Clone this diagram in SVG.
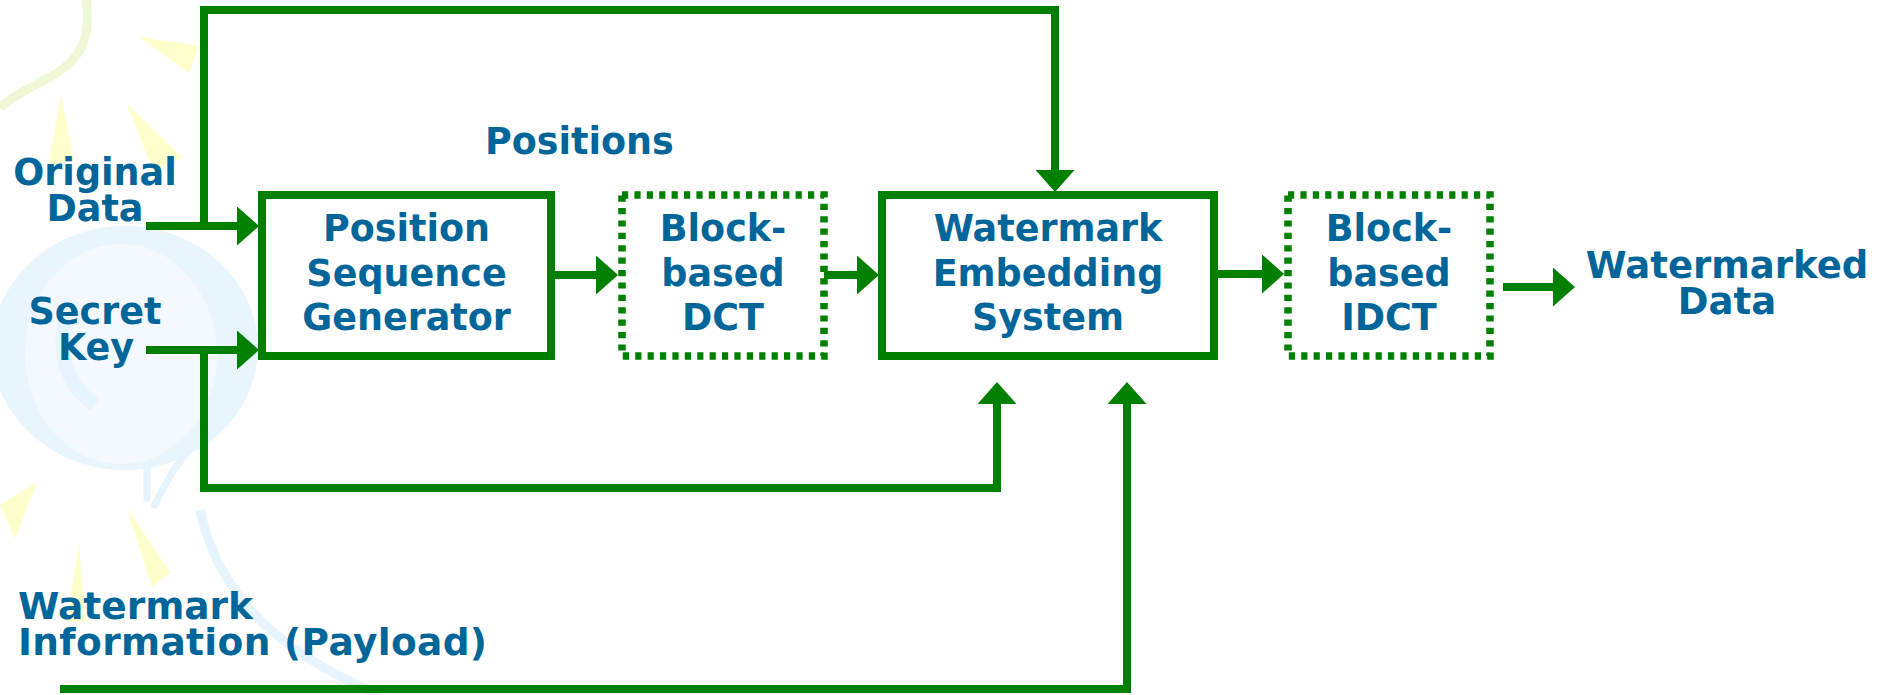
<svg xmlns="http://www.w3.org/2000/svg" width="1892" height="695" viewBox="0 0 1892 695">
<style>
.t{font-family:"DejaVu Sans",Verdana,sans-serif;font-weight:bold;font-size:36.5px;fill:#006699}
.m{text-anchor:middle}
.box{fill:#ffffff;stroke:#008000;stroke-width:8}
.dash{fill:#ffffff;stroke:#008000;stroke-width:7.5;stroke-dasharray:6.2 6.2}
.c{fill:none;stroke:#008000;stroke-width:8;stroke-linejoin:miter}
.ray{fill:#ffffcc}
.sw{fill:none;stroke:#e6f4fd}
</style>
<defs>
<marker id="ah" viewBox="0 0 22 39" refX="7" refY="19.5" markerWidth="22" markerHeight="39" markerUnits="userSpaceOnUse" orient="auto">
<path d="M0,0 L22,19.5 L0,39 z" fill="#008000"/>
</marker>
</defs>
<rect width="1892" height="695" fill="#ffffff"/>
<g id="background">
<path d="M86,0 C92,40 80,62 45,80 C25,90 10,98 0,108" fill="none" stroke="#eef8d6" stroke-width="9"/>
<polygon class="ray" points="139,37 199,46 189,73"/>
<polygon class="ray" points="61,96 48,166 74,160"/>
<polygon class="ray" points="127,104 153,171 183,158"/>
<polygon class="ray" points="37,482 0,505 15,539"/>
<polygon class="ray" points="127,508 152,588 170,572"/>
<polygon class="ray" points="79,542 67,622 85,622"/>
<ellipse cx="125" cy="348" rx="133" ry="122" fill="#e8f5fd"/>
<ellipse cx="121" cy="354" rx="96" ry="110" fill="#f3f9fe"/>
<path class="sw" d="M72,300 C55,340 60,380 95,405" stroke-width="14"/>
<path class="sw" d="M147,466 L147,502 M153,508 C165,485 175,465 188,452" stroke-width="7"/>
<path class="sw" d="M200,510 C215,580 260,645 380,695" stroke-width="9"/>
</g>
<g id="connectors">
<path class="c" d="M146,226 H244" marker-end="url(#ah)"/>
<path class="c" d="M204,226 V10 H1055 V177" marker-end="url(#ah)"/>
<path class="c" d="M146,350 H244" marker-end="url(#ah)"/>
<path class="c" d="M204,350 V488 H997 V397" marker-end="url(#ah)"/>
<path class="c" d="M551,275 H603" marker-end="url(#ah)"/>
<path class="c" d="M824,275 H864" marker-end="url(#ah)"/>
<path class="c" d="M1214,274 H1269" marker-end="url(#ah)"/>
<path class="c" d="M1503,287 H1560" marker-end="url(#ah)"/>
<path class="c" d="M60,689 H1127 V397" marker-end="url(#ah)"/>
</g>
<g id="position-sequence-generator">
<rect class="box" x="262" y="195" width="289" height="161"/>
<text class="t m" x="406.5" y="241">Position</text>
<text class="t m" x="406.5" y="286">Sequence</text>
<text class="t m" x="406.5" y="330">Generator</text>
</g>
<g id="block-dct">
<rect class="dash" x="622" y="195" width="202" height="161"/>
<text class="t m" x="723" y="241">Block-</text>
<text class="t m" x="723" y="286">based</text>
<text class="t m" x="723" y="330">DCT</text>
</g>
<g id="watermark-embedding-system">
<rect class="box" x="882" y="195" width="332" height="161"/>
<text class="t m" x="1048" y="241">Watermark</text>
<text class="t m" x="1048" y="286">Embedding</text>
<text class="t m" x="1048" y="330">System</text>
</g>
<g id="block-idct">
<rect class="dash" x="1288" y="195" width="202" height="161"/>
<text class="t m" x="1389" y="241">Block-</text>
<text class="t m" x="1389" y="286">based</text>
<text class="t m" x="1389" y="330">IDCT</text>
</g>
<g id="original-data">
<text class="t m" x="95" y="185">Original</text>
<text class="t m" x="95" y="221">Data</text>
</g>
<g id="secret-key">
<text class="t m" x="95" y="324">Secret</text>
<text class="t m" x="96" y="360">Key</text>
</g>
<g id="positions-label">
<text class="t" x="485" y="154">Positions</text>
</g>
<g id="watermarked-data">
<text class="t m" x="1727" y="278" style="font-size:37px">Watermarked</text>
<text class="t m" x="1727" y="314" style="font-size:37px">Data</text>
</g>
<g id="watermark-information">
<text class="t" x="18" y="619" style="font-size:37.5px">Watermark</text>
<text class="t" x="18" y="655" style="font-size:37.5px;letter-spacing:0.35px">Information (Payload)</text>
</g>
</svg>
